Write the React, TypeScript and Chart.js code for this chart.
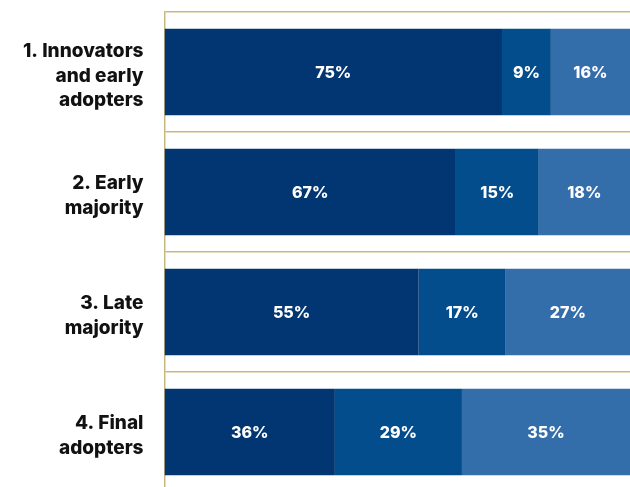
import React, { useEffect, useRef } from "react";
import { Chart, registerables } from "chart.js";

Chart.register(...registerables);

const categories: string[][] = [
  ["1. Innovators", "and early", "adopters"],
  ["2. Early", "majority"],
  ["3. Late", "majority"],
  ["4. Final", "adopters"],
];
const seriesA = [72.5, 62.6, 54.6, 36.6];
const seriesB = [10.5, 17.8, 18.7, 27.3];
const seriesC = [17.0, 19.6, 26.7, 36.1];
const labelsA = ["75%", "67%", "55%", "36%"];
const labelsB = ["9%", "15%", "17%", "29%"];
const labelsC = ["16%", "18%", "27%", "35%"];

const segLabels = [labelsA, labelsB, labelsC];
const GOLD = "#c9b97c";

const valueLabels = {
  id: "valueLabels",
  afterDatasetsDraw(chart: any) {
    const ctx = chart.ctx;
    ctx.save();
    ctx.fillStyle = "#ffffff";
    ctx.font = "800 16px Inter";
    ctx.textAlign = "center";
    ctx.textBaseline = "middle";
    chart.data.datasets.forEach((_ds: any, i: number) => {
      const meta = chart.getDatasetMeta(i);
      meta.data.forEach((el: any, j: number) => {
        const p = el.getProps(["x", "y", "base"], true);
        ctx.fillText(segLabels[i][j], (p.x + p.base) / 2, p.y + 1);
      });
    });
    ctx.restore();
  },
};

export default function App() {
  const ref = useRef<HTMLCanvasElement | null>(null);
  useEffect(() => {
    if (!ref.current) return;
    const chart = new Chart(ref.current, {
      type: "bar",
      data: {
        labels: categories as any,
        datasets: [
          { data: seriesA, backgroundColor: "#023672", borderWidth: 0 },
          { data: seriesB, backgroundColor: "#034d8c", borderWidth: 0 },
          { data: seriesC, backgroundColor: "#336eab", borderWidth: 0 },
        ],
      },
      options: {
        indexAxis: "y",
        responsive: false,
        animation: false,
        devicePixelRatio: 1,
        layout: { padding: { top: 12, left: 0, right: 0, bottom: 0 } },
        datasets: { bar: { barPercentage: 0.72, categoryPercentage: 1 } },
        plugins: { legend: { display: false }, tooltip: { enabled: false } },
        scales: {
          x: { stacked: true, min: 0, max: 100, display: false },
          y: {
            stacked: true,
            grid: { offset: true, color: GOLD, lineWidth: 1.5, drawTicks: false },
            border: { color: GOLD, width: 1.5 },
            ticks: {
              padding: 21,
              labelOffset: 4,
              color: "#111111",
              font: { family: "Inter", size: 19, weight: "800", lineHeight: 1.3 },
            },
            afterFit: (s: any) => {
              s.width = 164.5;
              s.paddingTop = 0;
              s.paddingBottom = 0;
            },
          },
        },
      },
      plugins: [valueLabels],
    });
    return () => chart.destroy();
  }, []);
  return (
    <div style={{ position: "fixed", left: 0, top: 0, width: 630, height: 487, overflow: "hidden", background: "#fff" }}>
      <canvas ref={ref} width={630} height={492} style={{ display: "block", width: 630, height: 492 }} />
    </div>
  );
}
